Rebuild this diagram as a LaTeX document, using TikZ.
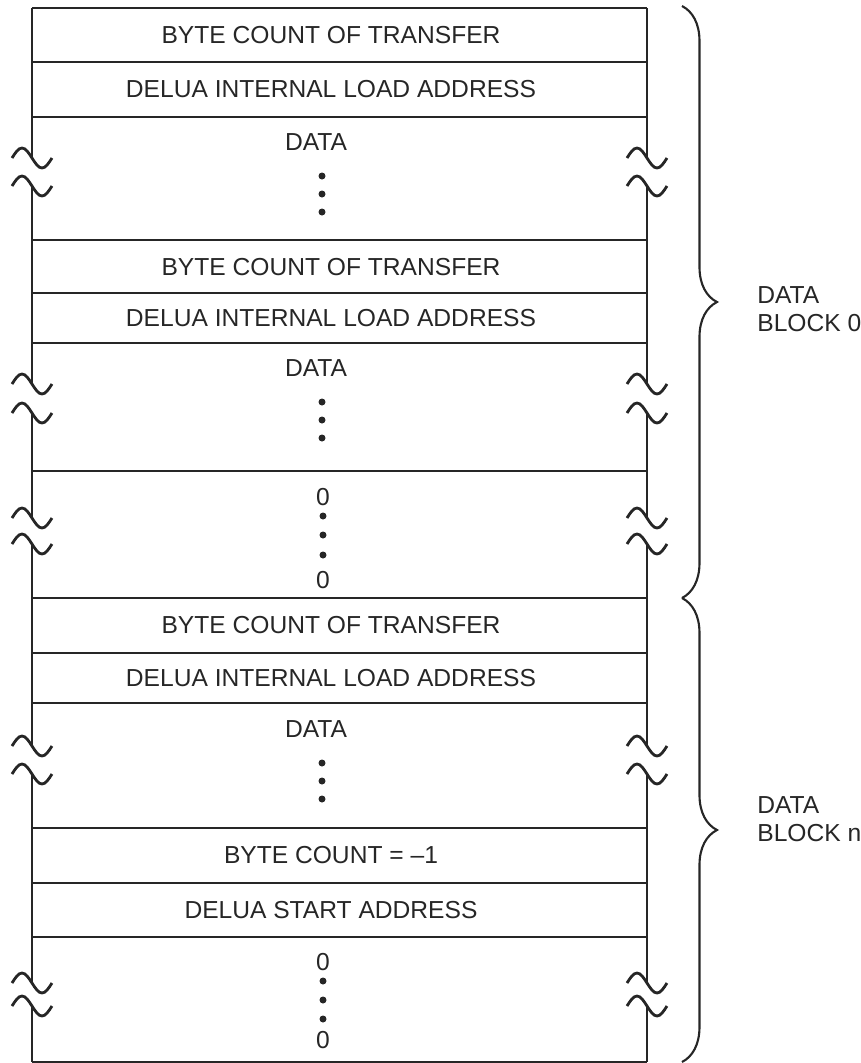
\documentclass[tikz,border=0pt]{standalone}
\usepackage{fontspec}
\setmainfont{Liberation Sans}
\usetikzlibrary{decorations.pathreplacing}

\begin{document}
\begin{tikzpicture}[
  x=0.02cm, y=-0.02cm,
  font=\fontsize{14}{16}\selectfont,
  rule/.style={line width=1.6pt, draw=black!85},
  brkmark/.style={line width=1.6pt, draw=black!85},
  lbl/.style={inner sep=0pt, text=black!85},
  dotmark/.style={fill=black!85},
  blockbrace/.style={decorate, decoration={brace, amplitude=0.7cm}, line width=1.2pt, draw=black!85},
]
\useasboundingbox (0,0) rectangle (860,1063);

% --- row separators
\foreach \yy in {8,62,117,240,293,343,471,598,653,703,828,883,937,1062}
  \draw[rule] (32,\yy) -- (647,\yy);

% --- side walls, interrupted at the break marks
\foreach \ya/\yb in {8/158,186/384,413/518,544/746,774/983,1006/1062} {
  \draw[rule] (32,\ya) -- (32,\yb);
  \draw[rule] (647,\ya) -- (647,\yb);
}

% --- break marks (~) on both walls
\foreach \yy in {158,186,384,413,518,544,746,774,983,1006}
  \foreach \xx in {32,647}
    \draw[brkmark] (\xx-20,\yy) sin (\xx-10,\yy-10) cos (\xx,\yy) sin (\xx+10,\yy+10) cos (\xx+20,\yy);

% --- data block 0
\node[lbl] (cnt1) at (331,35) {BYTE COUNT OF TRANSFER};
\node[lbl] (addr1) at (331,89) {DELUA INTERNAL LOAD ADDRESS};
\node[lbl] (data1) at (316,142) {DATA};
\foreach \yy in {176,194,212} \fill[dotmark] (322,\yy) circle (3.5);

\node[lbl] (cnt2) at (331,267) {BYTE COUNT OF TRANSFER};
\node[lbl] (addr2) at (331,318) {DELUA INTERNAL LOAD ADDRESS};
\node[lbl] (data2) at (316,368) {DATA};
\foreach \yy in {402,420,438} \fill[dotmark] (322,\yy) circle (3.5);

\node[lbl] (zeroa) at (323,497) {0};
\foreach \yy in {516,535,555} \fill[dotmark] (323,\yy) circle (3.5);
\node[lbl] (zerob) at (323,580) {0};

% --- data block n
\node[lbl] (cnt3) at (331,625) {BYTE COUNT OF TRANSFER};
\node[lbl] (addr3) at (331,678) {DELUA INTERNAL LOAD ADDRESS};
\node[lbl] (data3) at (316,729) {DATA};
\foreach \yy in {763,781,799} \fill[dotmark] (322,\yy) circle (3.5);

\node[lbl] (cntend) at (331,855) {BYTE COUNT = –1};
\node[lbl] (start) at (331,910) {DELUA START ADDRESS};

\node[lbl] (zeroc) at (323,962) {0};
\foreach \yy in {981,1000,1019} \fill[dotmark] (323,\yy) circle (3.5);
\node[lbl] (zerod) at (323,1040) {0};

% --- braces and block names
\coordinate (bktop) at (682,6);
\coordinate (bkmid) at (682,598);
\coordinate (bkbot) at (682,1062);
\draw[blockbrace] (bktop) -- (bkmid);
\draw[blockbrace] (bkmid) -- (bkbot);
\node[lbl, anchor=west, align=left] (blk0) at (757,309) {DATA\\BLOCK 0};
\node[lbl, anchor=west, align=left] (blkn) at (757,819) {DATA\\BLOCK n};

\end{tikzpicture}
\end{document}
